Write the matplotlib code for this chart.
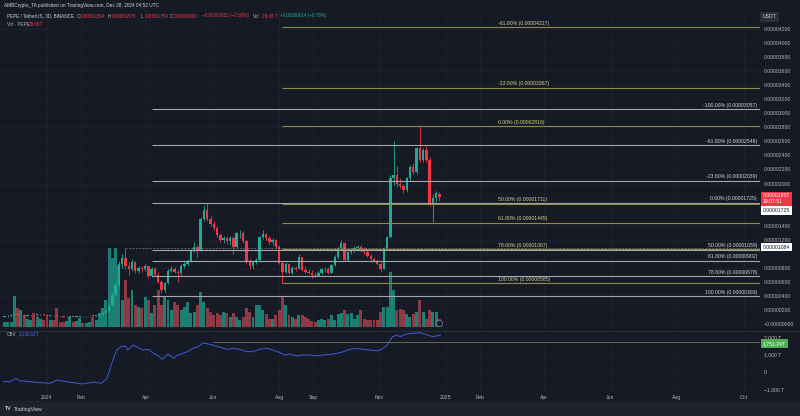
import numpy as np
import pandas as pd
import matplotlib
matplotlib.use('Agg')
import matplotlib.pyplot as plt
import matplotlib.dates as mdates
from matplotlib.patches import Rectangle
from matplotlib.lines import Line2D

plt.rcParams['font.family'] = ['Liberation Sans', 'DejaVu Sans']

# PEPE / USDT, 3D candles, prices in 1e-8 USDT
start_date = '2023-11-23'
opens = [104, 110, 118, 131, 142, 128, 134, 121, 125, 130, 122, 136, 139, 130, 120, 126, 123, 115, 107, 100,
         104, 107, 101, 104, 110, 108, 113, 120, 116, 124, 140, 155, 180, 265, 420, 560, 860, 935, 820, 790,
         880, 760, 800, 780, 820, 690, 790, 700, 600, 480, 580, 760, 790, 740, 720, 830, 850, 900, 1050, 1090,
         1060, 1500, 1620, 1500, 1420, 1370, 1270, 1200, 1220, 1180, 1230, 1100, 1290, 1300, 1180, 890, 820, 880, 910, 1240,
         1280, 1230, 1170, 1190, 1100, 870, 740, 860, 730, 800, 790, 950, 770, 740, 730, 700, 690, 730, 780, 790,
         730, 840, 950, 1080, 1150, 910, 1020, 1050, 1080, 1100, 1060, 1030, 970, 920, 900, 860, 790, 1080, 1240, 2080,
         2120, 2000, 1960, 1910, 2080, 2240, 2160, 2500, 2330, 2480, 2340, 1700, 1790, 1854]
highs = [114, 122, 136, 158, 148, 140, 138, 130, 135, 134, 142, 146, 142, 133, 130, 129, 126, 118, 110, 108,
         111, 109, 108, 113, 114, 117, 124, 123, 128, 145, 165, 195, 285, 450, 600, 900, 1000, 1084, 880, 930,
         900, 830, 830, 850, 830, 810, 810, 740, 620, 600, 780, 820, 810, 770, 850, 880, 930, 1070, 1170, 1130,
         1530, 1700, 1725, 1540, 1460, 1400, 1300, 1260, 1250, 1260, 1260, 1310, 1340, 1320, 1200, 920, 900, 940, 1260, 1340,
         1300, 1250, 1220, 1210, 1120, 900, 880, 870, 820, 820, 990, 960, 820, 780, 770, 740, 760, 800, 810, 810,
         860, 980, 1100, 1196, 1170, 1040, 1080, 1110, 1130, 1120, 1090, 1050, 990, 950, 920, 880, 1100, 1260, 2120, 2600,
         2250, 2080, 2000, 2100, 2270, 2290, 2520, 2820, 2510, 2530, 2380, 1850, 1900, 1878]
lows = [98, 105, 114, 126, 122, 122, 116, 115, 120, 117, 119, 131, 126, 115, 116, 118, 109, 103, 96, 96,
        100, 97, 98, 101, 104, 105, 110, 112, 113, 121, 135, 150, 175, 255, 400, 540, 800, 790, 700, 760,
        720, 730, 740, 750, 650, 670, 680, 580, 440, 450, 570, 740, 720, 600, 700, 800, 820, 880, 1020, 960,
        1040, 1470, 1470, 1390, 1340, 1240, 1170, 1150, 1140, 1120, 990, 1080, 1220, 1150, 860, 790, 790, 850, 890, 1210,
        1200, 1140, 1130, 1080, 850, 590, 720, 710, 710, 760, 780, 750, 720, 710, 655, 670, 680, 710, 740, 710,
        720, 820, 930, 1060, 890, 890, 990, 1030, 1040, 1030, 1000, 950, 900, 880, 840, 740, 780, 1060, 1220, 1980,
        1950, 1940, 1870, 1880, 2040, 2130, 2140, 2300, 2300, 2310, 1680, 1450, 1740, 1754]
closes = [110, 118, 131, 142, 128, 134, 121, 125, 130, 122, 136, 139, 130, 120, 126, 123, 115, 107, 100, 104,
          107, 101, 104, 110, 108, 113, 120, 116, 124, 140, 155, 180, 265, 420, 560, 860, 935, 820, 790, 880,
          760, 800, 780, 820, 690, 790, 700, 600, 480, 580, 760, 790, 740, 720, 830, 850, 900, 1050, 1090, 1060,
          1500, 1620, 1500, 1420, 1370, 1270, 1200, 1220, 1180, 1230, 1100, 1290, 1300, 1180, 890, 820, 880, 910, 1240, 1280,
          1230, 1170, 1190, 1100, 870, 740, 860, 730, 800, 790, 950, 770, 740, 730, 700, 690, 730, 780, 790, 730,
          840, 950, 1080, 1150, 910, 1020, 1050, 1080, 1100, 1060, 1030, 970, 920, 900, 860, 790, 1080, 1240, 2080, 2120,
          2000, 1960, 1910, 2080, 2240, 2160, 2500, 2330, 2480, 2340, 1700, 1790, 1860, 1807]
volumes_t = [18, 18, 18, 109, 67, 60, 42, 28, 25, 49, 35, 28, 25, 42, 25, 25, 67, 18, 18, 21,
             35, 18, 21, 32, 14, 14, 18, 35, 25, 49, 67, 95, 277, 242, 277, 217, 95, 165, 102, 130,
             77, 70, 67, 105, 95, 49, 77, 130, 77, 105, 95, 60, 88, 77, 60, 70, 88, 49, 53, 77,
             123, 88, 67, 53, 42, 49, 42, 53, 49, 35, 49, 35, 25, 35, 67, 53, 35, 77, 77, 60,
             46, 28, 28, 42, 60, 105, 77, 42, 35, 28, 42, 42, 35, 28, 21, 18, 25, 28, 25, 28,
             42, 25, 46, 49, 60, 46, 49, 28, 42, 60, 28, 25, 25, 25, 25, 53, 70, 70, 193, 130,
             60, 63, 60, 46, 35, 46, 53, 95, 53, 28, 60, 53, 53, 28]

obv_dates = ['2023-11-22', '2023-11-28', '2023-12-03', '2023-12-07', '2023-12-16', '2023-12-26', '2024-01-04',
             '2024-01-10', '2024-01-19', '2024-01-29', '2024-02-03', '2024-02-12', '2024-02-20', '2024-02-25',
             '2024-03-01', '2024-03-05', '2024-03-09', '2024-03-13', '2024-03-15', '2024-03-20', '2024-03-24',
             '2024-03-29', '2024-04-03', '2024-04-07', '2024-04-12', '2024-04-16', '2024-04-21', '2024-04-26',
             '2024-04-30', '2024-05-05', '2024-05-09', '2024-05-14', '2024-05-19', '2024-05-23', '2024-05-28',
             '2024-06-01', '2024-06-08', '2024-06-14', '2024-06-20', '2024-06-26', '2024-07-02', '2024-07-08',
             '2024-07-14', '2024-07-21', '2024-07-26', '2024-08-02', '2024-08-06', '2024-08-11', '2024-08-17',
             '2024-08-23', '2024-08-29', '2024-09-05', '2024-09-10', '2024-09-17', '2024-09-23', '2024-09-29',
             '2024-10-05', '2024-10-11', '2024-10-17', '2024-10-23', '2024-10-30', '2024-11-03', '2024-11-08',
             '2024-11-13', '2024-11-17', '2024-11-20', '2024-11-26', '2024-12-02', '2024-12-08', '2024-12-15',
             '2024-12-20', '2024-12-27']
obv_values = [-560, -560, -366, -500, -560, -620, -650, -462, -560, -650, -694, -590, -650, -366,
              597, 1272, 1464, 1500, 1272, 1560, 1425, 1272, 1310, 1118, 925, 733, 1040, 790,
              985, 1079, 1175, 1368, 1464, 1695, 1618, 1560, 1425, 1310, 1368, 1310, 1175, 1175,
              1310, 1368, 1272, 1118, 985, 1040, 925, 985, 985, 925, 985, 1020, 1079, 1175,
              1310, 1368, 1310, 1272, 1233, 1310, 1560, 2042, 2139, 2042, 2196, 2235, 2273, 2139,
              2042, 2130]

fib_yellow_levels = ['-61.80%', '-23.60%', '0.00%', '50.00%', '61.80%', '78.60%', '100.00%']
fib_yellow_prices = [4227, 3367, 2816, 1711, 1445, 1067, 585]
fib_white_levels = ['-100.00%', '-61.80%', '-23.60%', '0.00%', '50.00%', '61.80%', '78.60%', '100.00%']
fib_white_prices = [3057, 2548, 2039, 1725, 1059, 902, 678, 393]
march_high = 1084
obv_level = 1751.24
last_price = 1807

price_ticks = list(range(0, 4201, 200))
hidden_price_ticks = [1000, 1600, 1800]
obv_ticks = [2000, 1000, 0, -1000]
obv_tick_labels = ['2,000 T', '1,000 T', '0', '\u22121,000 T']
date_ticks = ['2024-01-01', '2024-02-01', '2024-04-01', '2024-06-01', '2024-08-01', '2024-09-01', '2024-11-01',
              '2025-01-01', '2025-02-01', '2025-04-01', '2025-06-01', '2025-08-01', '2025-10-01']
date_labels = ['2024', 'Feb', 'Apr', 'Jun', 'Aug', 'Sep', 'Nov', '2025', 'Feb', 'Apr', 'Jun', 'Aug', 'Oct']

BG = '#161a25'
GRID = '#1d2130'
TXT = '#b2b5be'
UP = '#22ab94'
DN = '#f23645'
VOL_UP = '#1d7f73'
VOL_DN = '#8c3a44'
FIB_Y = '#8f8b46'
FIB_Y_TXT = '#d3d08a'
FIB_W = '#a3a6ae'
FIB_W_TXT = '#d1d4dc'
OBV_C = '#3a5bd9'
FS = 3.7
HFS = 3.3

W, H = 800, 416
fig = plt.figure(figsize=(8, 4.16), dpi=100)
fig.patch.set_facecolor(BG)


def rect(x0, y0, x1, y1):
    return [x0 / W, 1 - y1 / H, (x1 - x0) / W, (y1 - y0) / H]


ax_bg = fig.add_axes(rect(0, 10, 760, 330))
ax_vol = fig.add_axes(rect(0, 10, 760, 330))
ax = fig.add_axes(rect(0, 10, 760, 330))
ax_obv = fig.add_axes(rect(0, 331, 760, 392))

dates = mdates.date2num(pd.date_range(start_date, periods=len(closes), freq='3D'))
jan1 = mdates.date2num(pd.Timestamp('2024-01-01'))
xlim = (jan1 - 47 / 1.09, jan1 + 713 / 1.09)
ylim = (-85.4, 4470.5)
tick_nums = mdates.date2num(pd.to_datetime(date_ticks))

for a in (ax_bg, ax_vol, ax, ax_obv):
    a.set_xlim(*xlim)
    for s in a.spines.values():
        s.set_visible(False)
    a.tick_params(length=0)
ax_vol.patch.set_visible(False)
ax.patch.set_visible(False)
ax_bg.set_facecolor(BG)
ax_obv.set_facecolor(BG)

# grid
ax_bg.set_ylim(*ylim)
ax_bg.set_yticks(price_ticks)
ax_bg.set_xticks(tick_nums)
ax_bg.grid(True, color=GRID, lw=0.6)
ax_bg.tick_params(labelleft=False, labelbottom=False)

# volume
o = np.array(opens)
c = np.array(closes)
up = c >= o
ax_vol.bar(dates, volumes_t, width=2.7, color=np.where(up, VOL_UP, VOL_DN), lw=0)
ax_vol.set_ylim(-10.5, 1109.5)
ax_vol.axis('off')
ax_vol.plot(dates[-1], 15, 'o', ms=4.5, mfc=BG, mec='#787b86', mew=0.6, clip_on=False)

# candles
ax.set_ylim(*ylim)
ax.vlines(dates, lows, highs, colors=np.where(up, UP, DN), lw=0.6)
body = np.maximum(np.abs(c - o), 6)
ax.bar(dates, body, bottom=np.minimum(o, c), width=2.2, color=np.where(up, UP, DN), lw=0)

# fib retracements
y_start = mdates.date2num(pd.Timestamp('2024-08-04'))
w_start = mdates.date2num(pd.Timestamp('2024-04-06'))
y_label_x = mdates.date2num(pd.Timestamp('2025-02-18'))
ax.hlines(fib_white_prices, w_start, xlim[1], colors=FIB_W, lw=0.8)
ax.hlines(fib_yellow_prices, y_start, xlim[1], colors=FIB_Y, lw=0.8)
for lv, p in zip(fib_yellow_levels, fib_yellow_prices):
    ax.annotate(f'{lv} ({p * 1e-8:.8f})', (y_label_x, p), xytext=(0, 1), textcoords='offset points',
                ha='left', va='bottom', fontsize=FS, color=FIB_Y_TXT)
for lv, p in zip(fib_white_levels, fib_white_prices):
    ax.annotate(f'{lv} ({p * 1e-8:.8f})', (0.996, p), xycoords=('axes fraction', 'data'), xytext=(0, 1),
                textcoords='offset points', ha='right', va='bottom', fontsize=FS, color=FIB_W_TXT)
ax.hlines(march_high, dates[37], xlim[1], colors='#787b86', lw=0.5, linestyles=(0, (3, 2)))

# price scale
ax.yaxis.tick_right()
ax.set_yticks(price_ticks)
ax.set_yticklabels(['' if t in hidden_price_ticks else
                    ('\u22120.00000000' if t == 0 else f'{t * 1e-8:.8f}') for t in price_ticks])
ax.tick_params(axis='y', pad=3, labelsize=FS, labelcolor=TXT)
ax.tick_params(axis='x', labelbottom=False)


def tag(a, y, text, fc, tc, dy=0):
    a.annotate(text, (1.0, y), xycoords=('axes fraction', 'data'), xytext=(2.2, dy), textcoords='offset points',
               ha='left', va='center', fontsize=FS, color=tc, linespacing=1.2,
               bbox=dict(boxstyle='square,pad=0.35', fc=fc, ec='none'))


tag(ax, last_price, f'{last_price * 1e-8:.8f}\n19:07:51', DN, 'white', dy=-1.2)
tag(ax, fib_white_prices[3], f'{fib_white_prices[3] * 1e-8:.8f}', 'white', '#131722', dy=-5.5)
tag(ax, march_high, f'{march_high * 1e-8:.8f}', 'white', '#131722', dy=0.5)
fig.text(763 / W, 1 - 17 / H, 'USDT', fontsize=FS, color='#d1d4dc', va='center',
         bbox=dict(boxstyle='square,pad=0.5', fc='#2a2e39', ec='none'))

# OBV pane
ax_obv.plot(mdates.date2num(pd.to_datetime(obv_dates)), obv_values, color=OBV_C, lw=0.7)
ax_obv.set_ylim(-1156, 2370)
ax_obv.hlines(obv_level, mdates.date2num(pd.Timestamp('2024-06-01')), xlim[1], colors='#6f7356', lw=0.6)
ax_obv.yaxis.tick_right()
ax_obv.set_yticks(obv_ticks)
ax_obv.set_yticklabels(obv_tick_labels)
ax_obv.set_xticks(tick_nums)
ax_obv.set_xticklabels(date_labels)
ax_obv.grid(True, color=GRID, lw=0.6)
ax_obv.tick_params(axis='y', pad=3, labelsize=FS, labelcolor=TXT)
ax_obv.tick_params(axis='x', pad=2, labelsize=FS, labelcolor=TXT)
tag(ax_obv, obv_level, '1,751.24T', '#4caf50', 'white', dy=-1.5)

# header / legends
def t(x, y, s, color=TXT, size=HFS, **kw):
    fig.text(x / W, 1 - y / H, s, fontsize=size, color=color, va='center', **kw)


t(4, 6, 'AMBCrypto_TA published on TradingView.com, Dec 28, 2024 04:52 UTC', '#d1d4dc', size=3.4)
t(7, 16, 'PEPE / TetherUS, 3D, BINANCE', '#d1d4dc')
for x, s, col in [(76.5, 'O', TXT), (80.5, '0.00001854', DN), (108, 'H', TXT), (112, '0.00001878', DN),
                  (141, 'L', TXT), (144.5, '0.00001754', DN), (170, 'C', TXT), (174, '0.00001802', DN),
                  (202, '\u22120.00000052 (\u22122.80%)', DN), (253, 'Vol', TXT), (262, '28.06 T', DN),
                  (280, '+0.00000014 (+0.78%)', UP)]:
    t(x, 16, s, col)
t(7, 24, 'Vol \u00b7 PEPE', TXT)
t(29, 24, '28.06T', DN)
t(7, 334, 'OBV', TXT)
t(19, 334, '2,130.02T', '#4a6cf0')

# separators and footer
fig.add_artist(Line2D([0, 1], [1 - 330.5 / H] * 2, color='#2a2e39', lw=0.8))
fig.add_artist(Rectangle((0, 0), 1, 15 / H, transform=fig.transFigure, color='#1e222d'))
t(5, 409, 'TV', '#d1d4dc', size=FS, fontweight='bold')
t(14, 409, 'TradingView', '#d1d4dc', size=FS)

fig.savefig('out.png', dpi=100, facecolor=BG)
